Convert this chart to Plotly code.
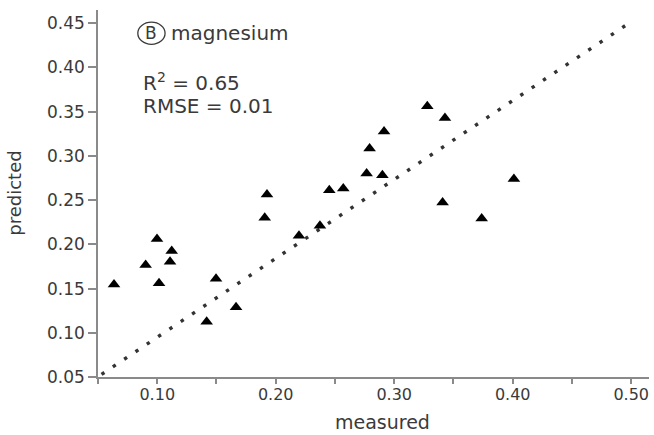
import plotly.graph_objects as go

measured = [0.0635, 0.0902, 0.0998, 0.1015, 0.1108, 0.1122, 0.1417, 0.1496, 0.1665,
            0.1907, 0.1926, 0.2196, 0.2373, 0.2452, 0.2570, 0.2767, 0.2792, 0.2900,
            0.2914, 0.3279, 0.3408, 0.3428, 0.3738, 0.4010]
predicted = [0.1547, 0.1766, 0.2060, 0.1559, 0.1803, 0.1924, 0.1125, 0.1610, 0.1288,
             0.2300, 0.2564, 0.2097, 0.2210, 0.2613, 0.2632, 0.2800, 0.3084, 0.2780,
             0.3276, 0.3562, 0.2474, 0.3430, 0.2293, 0.2740]

ref_x = [0.053, 0.498]
ref_y = [0.053, 0.450]

x_tickvals = [0.05, 0.10, 0.15, 0.20, 0.25, 0.30, 0.35, 0.40, 0.45, 0.50]
x_ticktext = ["", "0.10", "", "0.20", "", "0.30", "", "0.40", "", "0.50"]
y_tickvals = [0.05, 0.10, 0.15, 0.20, 0.25, 0.30, 0.35, 0.40, 0.45]
y_ticktext = ["0.05", "0.10", "0.15", "0.20", "0.25", "0.30", "0.35", "0.40", "0.45"]

panel_letter = "B"
label_name = "magnesium"
stat_r2 = "R<sup>2</sup> = 0.65"
stat_rmse = "RMSE = 0.01"
x_title = "measured"
y_title = "predicted"

FONT = "DejaVu Sans"
TXT = "#3a3a3a"
AX = "#8a8a8a"

fig = go.Figure()
fig.add_trace(go.Scatter(
    x=ref_x, y=ref_y, mode="lines",
    line=dict(color="#333333", width=3.4, dash="3.4px,10.2px"),
    hoverinfo="skip", showlegend=False))
fig.add_trace(go.Scatter(
    x=measured, y=predicted, mode="markers",
    marker=dict(symbol="triangle-up", size=11, color="black"),
    showlegend=False))

# circled panel letter
fig.add_shape(type="circle", xref="x", yref="y",
              x0=0.0951 - 0.0115, x1=0.0951 + 0.0115,
              y0=0.4387 - 0.0125, y1=0.4387 + 0.0125,
              line=dict(color=TXT, width=1.3))
fig.add_annotation(x=0.0951, y=0.4387, xref="x", yref="y", text=panel_letter,
                   showarrow=False, xanchor="center", yanchor="middle",
                   font=dict(family=FONT, size=17, color=TXT))
fig.add_annotation(x=0.1095, y=0.4387, xref="x", yref="y", text=label_name,
                   showarrow=False, xanchor="left", yanchor="middle",
                   font=dict(family=FONT, size=20, color=TXT))
fig.add_annotation(x=0.086, y=0.3833, xref="x", yref="y", text=stat_r2,
                   showarrow=False, xanchor="left", yanchor="middle",
                   font=dict(family=FONT, size=20, color=TXT))
fig.add_annotation(x=0.086, y=0.3562, xref="x", yref="y", text=stat_rmse,
                   showarrow=False, xanchor="left", yanchor="middle",
                   font=dict(family=FONT, size=20, color=TXT))

# axis titles
fig.add_annotation(x=0.517, y=-0.1226, xref="paper", yref="paper", text=x_title,
                   showarrow=False, xanchor="center", yanchor="middle",
                   font=dict(family=FONT, size=19, color=TXT))
fig.add_annotation(x=-0.152, y=0.50, xref="paper", yref="paper", text=y_title,
                   showarrow=False, xanchor="center", yanchor="middle", textangle=-90,
                   font=dict(family=FONT, size=18, color=TXT))

fig.update_layout(
    width=654, height=435,
    margin=dict(l=98, r=5, t=10, b=58),
    plot_bgcolor="white", paper_bgcolor="white",
    font=dict(family=FONT, color=TXT),
    xaxis=dict(range=[0.05, 0.515], tickvals=x_tickvals, ticktext=x_ticktext,
               automargin=False,
               showline=True, linecolor=AX, linewidth=1.5, ticks="outside",
               tickcolor=AX, ticklen=5, tickwidth=1.5, showgrid=False, zeroline=False,
               ticklabelstandoff=-3,
               tickfont=dict(family=FONT, size=16, color=TXT)),
    yaxis=dict(range=[0.05, 0.465], tickvals=y_tickvals, ticktext=y_ticktext,
               automargin=False,
               showline=True, linecolor=AX, linewidth=1.5, ticks="outside",
               tickcolor=AX, ticklen=8, tickwidth=1.5, showgrid=False, zeroline=False,
               tickfont=dict(family=FONT, size=17, color=TXT)),
)

fig.write_html("out.html", config={"displayModeBar": False},
               post_script="document.body.style.margin='0';")
